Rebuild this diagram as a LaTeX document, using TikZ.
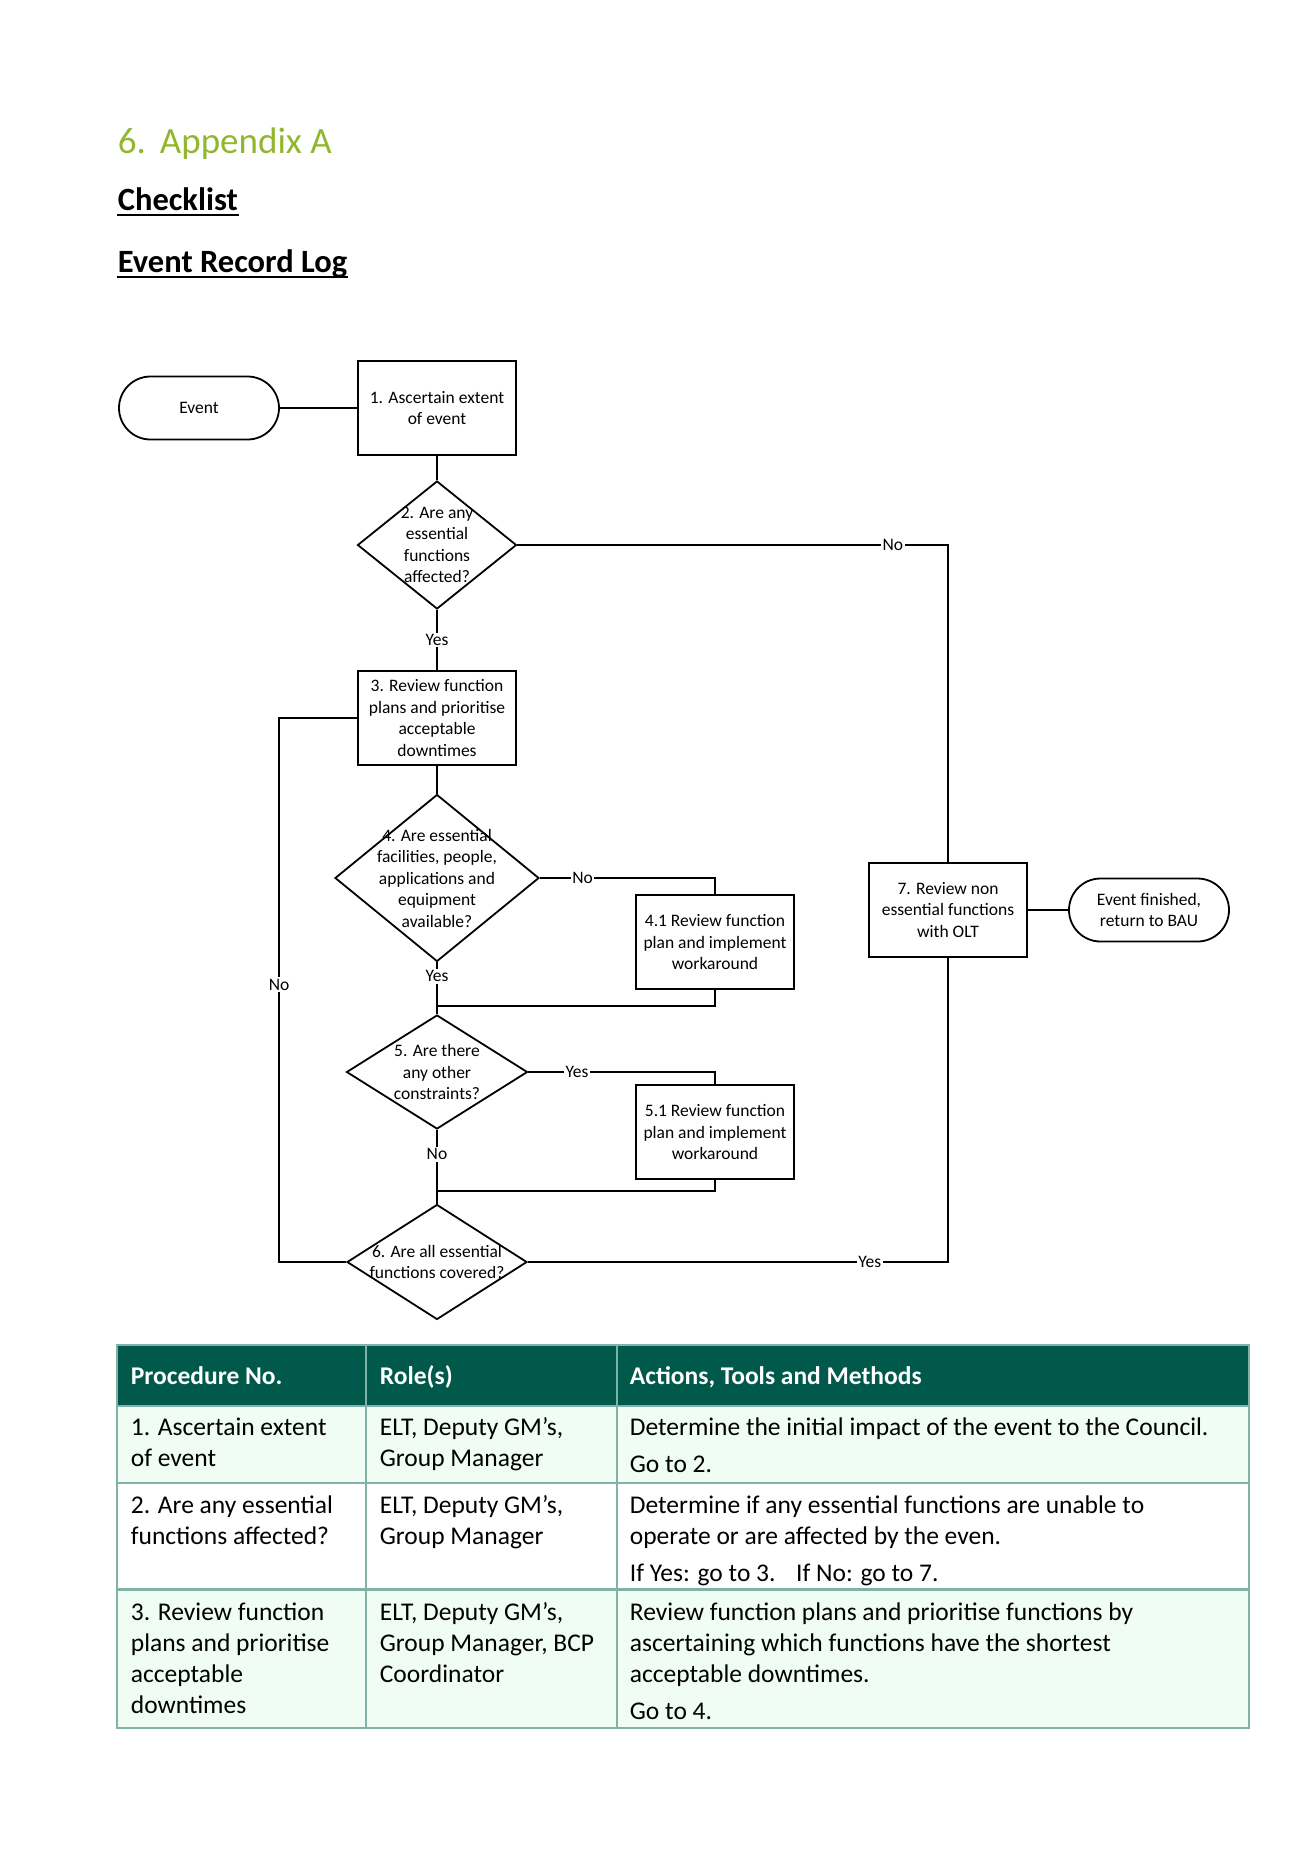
\documentclass[tikz,border=0pt]{standalone}
\usepackage{fontspec}
\setmainfont{Carlito}
\usepackage{tikz}
\usetikzlibrary{shapes.geometric, positioning}

\definecolor{headgreen}{RGB}{146,183,47}
\definecolor{tabledark}{RGB}{0,89,74}
\definecolor{tablelight}{RGB}{240,253,245}
\definecolor{tablerule}{RGB}{128,178,168}

\newcommand{\flowfont}{\fontsize{8.75}{10.75}\selectfont}
\newcommand{\tablefont}{\fontsize{12.75}{15.5}\selectfont}

\begin{document}
\begin{tikzpicture}[x=0.5pt, y=-0.5pt, line width=0.9pt,
        flow/.style = {font=\flowfont, align=center, inner sep=1pt},
        box/.style = {flow, draw, rectangle, minimum width=79pt, minimum height=47pt},
        terminal/.style = {flow, draw, rectangle, rounded corners=15.75pt,
            minimum width=80pt, minimum height=31.5pt},
        decision/.style = {draw, diamond, inner sep=0pt},
        answer/.style = {flow, fill=white, inner sep=0.8pt},
        cell/.style = {font=\tablefont, align=left, anchor=base west, inner sep=0pt},
        headcell/.style = {cell, font=\tablefont\bfseries, text=white}]
    \useasboundingbox (0,0) rectangle (1289,1870);

    % headings
    \node [anchor=base west, inner sep=0pt, text=headgreen,
        font=\fontsize{18.5}{22}\selectfont] (title) at (117,153) {6.\hspace{7pt}Appendix A};
    \node [anchor=base west, inner sep=0pt, font=\fontsize{16.25}{19.5}\selectfont\bfseries]
        (checklist) at (117,210) {Checklist};
    \node [anchor=base west, inner sep=0pt, font=\fontsize{16.25}{19.5}\selectfont\bfseries]
        (recordlog) at (117,272) {Event Record Log};
    \draw [line width=1.2pt] ([yshift=-2.6pt]checklist.base west) -- ([yshift=-2.6pt]checklist.base east);
    \draw [line width=1.2pt] ([yshift=-2.6pt]recordlog.base west) -- ([yshift=-2.6pt]recordlog.base east);

    % flowchart
    \node [terminal] (event) at (199,408) {Event};
    \node [box] (ascertain) at (437,408) {1. Ascertain extent\\of event};
    \node [decision, minimum width=79.5pt, minimum height=64pt] (affected) at (437,545) {};
    \node [flow] (affectedtxt) at (affected) {2. Are any\\essential\\functions\\affected?};
    \node [box] (review) at (437,718) {3. Review function\\plans and prioritise\\acceptable\\downtimes};
    \node [decision, minimum width=102pt, minimum height=83.5pt] (available) at (437,878) {};
    \node [flow] (availabletxt) at (available) {4. Are essential\\facilities, people,\\applications and\\equipment\\available?};
    \node [box] (workfour) at (715,942) {4.1 Review function\\plan and implement\\workaround};
    \node [decision, minimum width=90.5pt, minimum height=57pt] (constraints) at (437,1072) {};
    \node [flow] (constraintstxt) at (constraints) {5. Are there\\any other\\constraints?};
    \node [box] (workfive) at (715,1132) {5.1 Review function\\plan and implement\\workaround};
    \node [decision, minimum width=90pt, minimum height=57.5pt] (covered) at (437,1262) {};
    \node [flow] (coveredtxt) at (covered) {6. Are all essential\\functions covered?};
    \node [box] (nonessential) at (948,910) {7. Review non\\essential functions\\with OLT};
    \node [terminal] (finished) at (1149,910) {Event finished,\\return to BAU};
    \coordinate (joinfour) at (437,1006);
    \coordinate (joinfive) at (437,1191);

    \draw (event) -- (ascertain);
    \draw (ascertain) -- (affected);
    \draw (affected) -- node [answer] {Yes} (review);
    \draw (affected.east) -| node [answer, pos=0.436] {No} (nonessential.north);
    \draw (review) -- (available);
    \draw (available.east) -| node [answer, pos=0.122] {No} (workfour.north);
    \draw (available) -- node [answer, pos=0.27] {Yes} (constraints);
    \draw (workfour.south) |- (joinfour);
    \draw (constraints.east) -| node [answer, pos=0.13] {Yes} (workfive.north);
    \draw (constraints) -- node [answer, pos=0.33] {No} (covered);
    \draw (workfive.south) |- (joinfive);
    \draw (covered.west) -- ++(-67,0) |- node [answer, pos=0.255] {No} (review.west);
    \draw (covered.east) -| node [answer, pos=0.407] {Yes} (nonessential.south);
    \draw (nonessential) -- (finished);

    % table (cells anchored on the baseline of their last line)
    \fill [tabledark] (117,1345) rectangle (1249,1406);
    \fill [tablelight] (117,1406) rectangle (1249,1483);
    \fill [tablelight] (117,1589) rectangle (1249,1728);
    \draw [tablerule, line width=0.8pt] (366,1345) -- (366,1728);
    \draw [tablerule, line width=0.8pt] (617,1345) -- (617,1728);
    \draw [tablerule, line width=1.1pt] (117,1345) rectangle (1249,1728);
    \draw [tablerule, line width=1.1pt] (117,1406) -- (1249,1406);
    \draw [tablerule, line width=1.1pt] (117,1483) -- (1249,1483);
    \draw [tablerule, line width=1.5pt] (117,1589) -- (1249,1589);

    \node [headcell] (hproc) at (130,1384) {Procedure No.};
    \node [headcell] (hrole) at (379,1384) {Role(s)};
    \node [headcell] (hact) at (629,1384) {Actions, Tools and Methods};

    \node [cell] (procone) at (130,1466) {1. Ascertain extent\\of event};
    \node [cell] (roleone) at (379,1466) {ELT, Deputy GM’s,\\Group Manager};
    \node [cell] (actone) at (629,1472) {Determine the initial impact of the event to the Council.\\[3pt]Go to 2.};

    \node [cell] (proctwo) at (130,1544) {2. Are any essential\\functions affected?};
    \node [cell] (roletwo) at (379,1544) {ELT, Deputy GM’s,\\Group Manager};
    \node [cell] (acttwo) at (629,1581) {Determine if any essential functions are unable to\\operate or are affected by the even.\\[3pt]If Yes: go to 3.\hspace{6.5pt} If No: go to 7.};

    \node [cell] (procthree) at (130,1713) {3. Review function\\plans and prioritise\\acceptable\\downtimes};
    \node [cell] (rolethree) at (379,1682) {ELT, Deputy GM’s,\\Group Manager, BCP\\Coordinator};
    \node [cell] (actthree) at (629,1719) {Review function plans and prioritise functions by\\ascertaining which functions have the shortest\\acceptable downtimes.\\[3pt]Go to 4.};
\end{tikzpicture}
\end{document}
